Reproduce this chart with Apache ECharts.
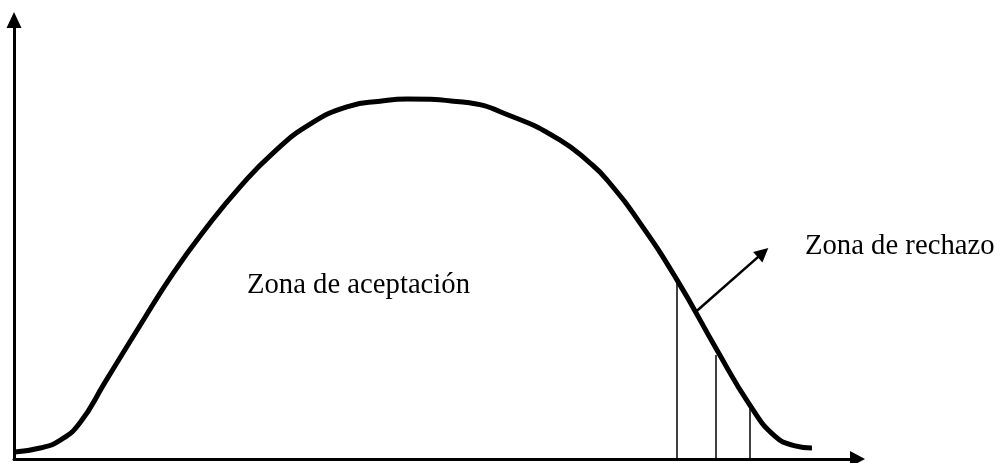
<!DOCTYPE html>
<html>
<head>
<meta charset="utf-8">
<title>Zona de aceptación / rechazo</title>
<script src="https://cdn.jsdelivr.net/npm/echarts@6/dist/echarts.min.js"></script>
<style>
  html, body { margin: 0; padding: 0; background: #fff; }
  #chart { width: 1003px; height: 463px; }
</style>
</head>
<body>
<div id="chart"></div>
<script>
// curve (x: 0..100 along the axis, y: 0..100 height)
var curveX = [0.1, 3.1, 5.5, 7.8, 10.8, 14.9, 18.9, 22.9, 26.8, 30.7, 35.1, 39.8, 43.4, 46.6,
              53.2, 59.2, 64.7, 68.3, 70.3, 74.2, 78.6, 83.2, 87.3, 90.2, 92.6, 94.6];
var curveY = [1.6, 2.5, 4.3, 8.2, 17.5, 30.3, 42.4, 52.9, 62.0, 69.7, 76.3, 80.4, 81.5, 82.0,
              81.3, 77.9, 72.7, 67.4, 63.6, 53.8, 40.8, 25.3, 12.1, 5.2, 3.0, 2.5];

// hatching lines in the rejection zone
var rejectX = [78.6, 83.2, 87.25];
var rejectTop = [40.3, 23.7, 11.4];

// pointer towards the "rechazo" label
var arrowFrom = [80.7, 33.3];
var arrowTo = [88.8, 47.0];

var labelAccept = 'Zona de aceptación';
var labelReject = 'Zona de rechazo';

var chart = echarts.init(document.getElementById('chart'));

var curveData = curveX.map(function (x, i) { return [x, curveY[i]]; });
var hatchData = rejectX.map(function (x, i) { return { coords: [[x, 0], [x, rejectTop[i]]] }; });

var option = {
    animation: false,
    grid: { left: 14, right: 145.5, top: 20, bottom: 4, containLabel: false, outerBoundsMode: 'none' },
    xAxis: {
        type: 'value', min: 0, max: 100,
        axisLabel: { show: false }, axisTick: { show: false }, splitLine: { show: false },
        axisLine: { show: true, onZero: false, symbol: ['none', 'triangle'], symbolSize: [16, 15],
                    lineStyle: { color: '#000', width: 3 } }
    },
    yAxis: {
        type: 'value', min: 0, max: 100,
        axisLabel: { show: false }, axisTick: { show: false }, splitLine: { show: false },
        axisLine: { show: true, onZero: false, symbol: ['none', 'triangle'], symbolSize: [15, 16],
                    lineStyle: { color: '#000', width: 3 } }
    },
    graphic: [
        { type: 'text', left: 247, top: 271,
          style: { text: labelAccept, font: '28.7px "Liberation Serif"', fill: '#000' } },
        { type: 'text', left: 805, top: 232,
          style: { text: labelReject, font: '28.7px "Liberation Serif"', fill: '#000' } }
    ],
    series: [
        {
            type: 'line', data: curveData, smooth: 0.5,
            showSymbol: false, lineStyle: { color: '#000', width: 5 }
        },
        {
            type: 'lines', coordinateSystem: 'cartesian2d', data: hatchData,
            symbol: 'none', lineStyle: { color: '#000', width: 1.5, opacity: 1 }
        },
        {
            type: 'lines', coordinateSystem: 'cartesian2d',
            data: [{ coords: [arrowFrom, arrowTo] }],
            symbol: ['none', 'triangle'], symbolSize: [13, 14],
            lineStyle: { color: '#000', width: 2.5, opacity: 1 }
        }
    ]
};
chart.setOption(option);
</script>
</body>
</html>
